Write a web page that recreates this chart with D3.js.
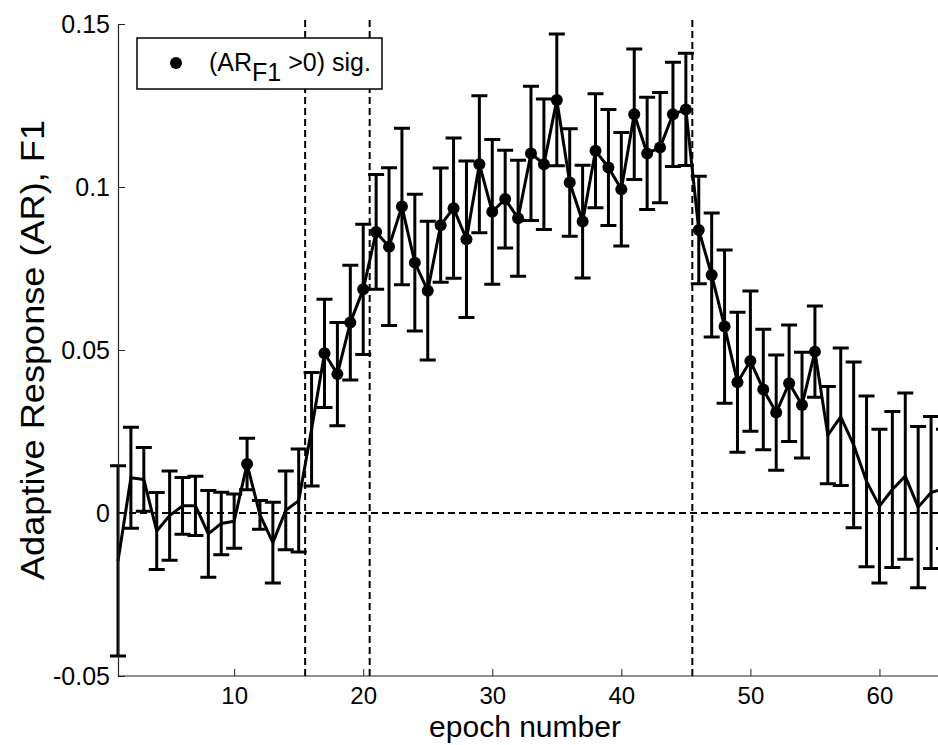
<!DOCTYPE html>
<html>
<head>
<meta charset="utf-8">
<script src="https://cdn.jsdelivr.net/npm/d3@7"></script>
<style>
  body { margin: 0; background: #fff; }
  svg { display: block; font-family: "Liberation Sans", Arial, sans-serif; }
</style>
</head>
<body>
<div id="chart"></div>
<script>
// epoch-by-epoch adaptive response (mean and error half-width)
const epochs = d3.range(1, 66);
const arMean = [
  -0.0147, 0.0108, 0.0103, -0.0055, -0.0008, 0.0022, 0.0022, -0.0064, -0.0032, -0.0025,
  0.0150, -0.0006, -0.0091, 0.0008, 0.0038, 0.0257, 0.0490, 0.0426, 0.0584, 0.0686,
  0.0862, 0.0817, 0.0940, 0.0768, 0.0682, 0.0883, 0.0935, 0.0840, 0.1070, 0.0924,
  0.0963, 0.0904, 0.1103, 0.1070, 0.1267, 0.1014, 0.0894, 0.1111, 0.1060, 0.0993,
  0.1223, 0.1103, 0.1121, 0.1223, 0.1238, 0.0868, 0.0730, 0.0572, 0.0401, 0.0466,
  0.0379, 0.0308, 0.0398, 0.0331, 0.0495, 0.0239, 0.0295, 0.0209, 0.0097, 0.0021,
  0.0072, 0.0113, 0.0018, 0.0063, 0.0074
];
const arErr = [
  0.0292, 0.0155, 0.0098, 0.0118, 0.0137, 0.0087, 0.0091, 0.0133, 0.0096, 0.0083,
  0.0079, 0.0044, 0.0124, 0.0121, 0.0158, 0.0174, 0.0166, 0.0158, 0.0176, 0.0200,
  0.0176, 0.0242, 0.0240, 0.0210, 0.0213, 0.0175, 0.0215, 0.0240, 0.0210, 0.0222,
  0.0150, 0.0178, 0.0206, 0.0200, 0.0202, 0.0165, 0.0173, 0.0175, 0.0178, 0.0174,
  0.0200, 0.0172, 0.0169, 0.0160, 0.0172, 0.0165, 0.0190, 0.0235, 0.0215, 0.0215,
  0.0185, 0.0177, 0.0179, 0.0162, 0.0140, 0.0149, 0.0211, 0.0254, 0.0262, 0.0236,
  0.0239, 0.0255, 0.0247, 0.0233, 0.0183
];
// epochs where AR_F1 > 0 is significant
const sigEpochs = [11].concat(d3.range(17, 56));
// block boundaries (dashed verticals)
const boundaries = [15.5, 20.5, 45.5];
const xTicks = [10, 20, 30, 40, 50, 60];
const yTicks = [-0.05, 0, 0.05, 0.1, 0.15];
const yTickLabels = ['-0.05', '0', '0.05', '0.1', '0.15'];

const width = 938, height = 745;
const plotLeft = 118, plotTop = 24, plotBottom = 676;

const svg = d3.select('#chart').append('svg')
  .attr('width', width)
  .attr('height', height);

const x = d3.scaleLinear().domain([1, 65]).range([plotLeft, plotLeft + 64 * 12.906]);
const y = d3.scaleLinear().domain([-0.05, 0.15]).range([plotBottom, plotTop]);

const data = epochs.map((e, i) => ({ e: e, m: arMean[i], s: arErr[i] }));

// dashed reference lines
const ref = svg.append('g')
  .attr('stroke', '#000')
  .attr('stroke-width', 2)
  .attr('stroke-dasharray', '7,4')
  .attr('fill', 'none');
ref.append('line')
  .attr('x1', x(1)).attr('x2', width)
  .attr('y1', y(0)).attr('y2', y(0));
ref.selectAll('.vb')
  .data(boundaries)
  .join('line')
  .attr('class', 'vb')
  .attr('x1', d => x(d)).attr('x2', d => x(d))
  .attr('y1', y(0.15) - 4).attr('y2', plotBottom);

// error bars
const cap = 8;
const eb = svg.append('g')
  .attr('stroke', '#000')
  .attr('stroke-width', 3)
  .attr('fill', 'none');
eb.selectAll('path')
  .data(data)
  .join('path')
  .attr('d', d => {
    const cx = x(d.e), y1 = y(d.m + d.s), y2 = y(d.m - d.s);
    return 'M' + cx + ',' + y1 + 'V' + y2 +
      'M' + (cx - cap) + ',' + y1 + 'H' + (cx + cap) +
      'M' + (cx - cap) + ',' + y2 + 'H' + (cx + cap);
  });

// mean line
svg.append('path')
  .datum(data)
  .attr('fill', 'none')
  .attr('stroke', '#000')
  .attr('stroke-width', 3)
  .attr('stroke-linejoin', 'round')
  .attr('d', d3.line().x(d => x(d.e)).y(d => y(d.m)));

// significant markers
svg.append('g')
  .selectAll('circle')
  .data(data.filter(d => sigEpochs.includes(d.e)))
  .join('circle')
  .attr('cx', d => x(d.e))
  .attr('cy', d => y(d.m))
  .attr('r', 6)
  .attr('fill', '#000');

// axes (MATLAB style: ticks inward, no box)
const xAxis = svg.append('g')
  .attr('transform', 'translate(0,' + plotBottom + ')')
  .call(d3.axisBottom(x).tickValues(xTicks).tickSizeInner(-7).tickSizeOuter(0));
xAxis.select('.domain').attr('d', 'M' + plotLeft + ',0H' + width);

const yAxis = svg.append('g')
  .attr('transform', 'translate(' + plotLeft + ',0)')
  .call(d3.axisLeft(y).tickValues(yTicks).tickFormat((d, i) => yTickLabels[i])
    .tickSizeInner(-7).tickSizeOuter(0).tickPadding(8));

svg.selectAll('.domain').attr('stroke', '#222').attr('stroke-width', 1.2);
svg.selectAll('.tick line').attr('stroke', '#222').attr('stroke-width', 1);
svg.selectAll('.tick text')
  .attr('font-family', '"Liberation Sans", Arial, sans-serif')
  .attr('font-size', 25)
  .attr('fill', '#000');
xAxis.selectAll('.tick text')
  .attr('font-size', 24)
  .attr('y', 28)
  .attr('dy', 0);

// axis labels
svg.append('text')
  .attr('x', 525)
  .attr('y', 737)
  .attr('text-anchor', 'middle')
  .attr('font-size', 30)
  .text('epoch number');

svg.append('text')
  .attr('transform', 'translate(44,350) rotate(-90)')
  .attr('text-anchor', 'middle')
  .attr('font-size', 33)
  .attr('textLength', 460)
  .attr('lengthAdjust', 'spacingAndGlyphs')
  .text('Adaptive Response (AR), F1');

// legend
const lg = svg.append('g');
lg.append('rect')
  .attr('x', 137).attr('y', 38)
  .attr('width', 245).attr('height', 51)
  .attr('fill', '#fff')
  .attr('stroke', '#000')
  .attr('stroke-width', 1.5);
lg.append('circle')
  .attr('cx', 176).attr('cy', 63)
  .attr('r', 6)
  .attr('fill', '#000');
const lt = lg.append('text')
  .attr('x', 209).attr('y', 71)
  .attr('font-size', 25);
lt.append('tspan').text('(AR');
lt.append('tspan').attr('dy', 10).text('F1');
lt.append('tspan').attr('dy', -10).text(' >0) sig.');
</script>
</body>
</html>
